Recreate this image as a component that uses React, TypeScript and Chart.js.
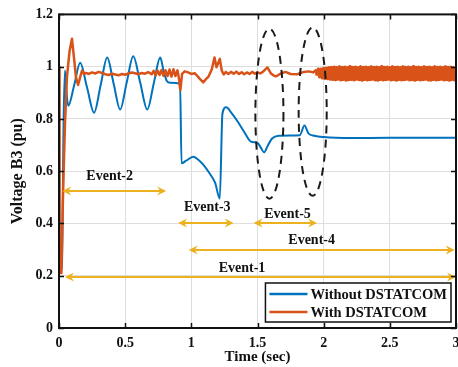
import { useEffect, useRef } from 'react';
import { Chart, registerables } from 'chart.js';

Chart.register(...registerables);

const FONT = "'Liberation Serif', 'Times New Roman', serif";
const TEXT = '#111111';

const seriesLabels = ['Without DSTATCOM', 'With DSTATCOM'];

const blueTimes = [
  0, 0.006, 0.022, 0.035, 0.045, 0.057, 0.07, 0.115, 0.16, 0.212, 0.265, 0.315, 0.364, 0.413,
  0.462, 0.511, 0.561, 0.614, 0.667, 0.716, 0.765, 0.79, 0.815, 0.84, 0.915, 0.926, 0.96, 1.015,
  1.05, 1.09, 1.14, 1.18, 1.215, 1.235, 1.265, 1.3, 1.35, 1.4, 1.45, 1.5, 1.525, 1.55, 1.575,
  1.61, 1.66, 1.75, 1.82, 1.855, 1.885, 1.93, 2.0, 2.2, 2.5, 3.0,
];
const blueValues = [
  0.98, 0.21, 0.24, 0.8, 0.985, 0.9, 0.85, 0.93, 1.015, 0.92, 0.824, 0.93, 1.035, 0.935,
  0.836, 0.938, 1.04, 0.938, 0.836, 0.936, 1.035, 0.985, 0.945, 0.938, 0.935, 0.63, 0.64, 0.655,
  0.645, 0.625, 0.59, 0.555, 0.495, 0.82, 0.845, 0.825, 0.79, 0.75, 0.713, 0.708, 0.69, 0.672, 0.695,
  0.725, 0.736, 0.737, 0.738, 0.775, 0.745, 0.736, 0.731, 0.727, 0.728, 0.728,
];

const orangeTimes = [
  0, 0.004, 0.018, 0.03, 0.045, 0.06, 0.08, 0.098, 0.112, 0.128, 0.144, 0.16, 0.174, 0.19, 0.205,
  0.225, 0.25, 0.275, 0.3, 0.325, 0.35, 0.375, 0.4, 0.425, 0.45, 0.475, 0.5, 0.525, 0.55, 0.575,
  0.6, 0.625, 0.65, 0.675, 0.7, 0.715, 0.73, 0.745, 0.76, 0.775, 0.79, 0.805, 0.82, 0.835, 0.85,
  0.865, 0.88, 0.895, 0.905, 0.917, 0.93, 0.95, 0.975, 1.0, 1.025, 1.05, 1.07, 1.09, 1.11, 1.13,
  1.155, 1.175, 1.19, 1.2, 1.215, 1.23, 1.245, 1.26, 1.28, 1.3, 1.32, 1.34, 1.36, 1.38, 1.4, 1.42,
  1.44, 1.46, 1.48, 1.5, 1.52, 1.54, 1.56, 1.575, 1.6, 1.625, 1.64, 1.67, 1.71, 1.75, 1.8, 1.85,
  1.89, 1.92, 1.94,
];
const orangeValues = [
  1.0, 0.21, 0.21, 0.5, 0.78, 0.96, 1.06, 1.107, 1.04, 0.96, 0.93, 0.96, 0.985, 0.972, 0.976,
  0.972, 0.978, 0.974, 0.98, 0.976, 0.971, 0.968, 0.973, 0.97, 0.967, 0.972, 0.969, 0.974, 0.978, 0.975,
  0.971, 0.976, 0.973, 0.979, 0.971, 0.984, 0.966, 0.985, 0.968, 0.987, 0.965, 0.986, 0.964, 0.989, 0.962,
  0.99, 0.964, 0.986, 0.96, 0.91, 0.972, 0.982, 0.978, 0.972, 0.975, 0.962, 0.95, 0.94, 0.952, 0.962,
  0.99, 1.035, 0.998, 1.01, 1.03, 0.985, 0.97, 0.98, 0.972, 0.98, 0.973, 0.981, 0.972, 0.979, 0.971, 0.978,
  0.972, 0.98, 0.973, 0.978, 0.974, 0.98, 0.99, 0.997, 0.975, 0.965, 0.963, 0.972, 0.98, 0.972, 0.971, 0.98,
  0.982, 0.978, 0.986,
];

const orangeBandTimes = [
  1.95, 1.96, 1.97, 1.98, 1.99, 2.0, 2.01, 2.02, 2.03, 2.04,
  2.05, 2.06, 2.07, 2.08, 2.09, 2.1, 2.11, 2.12, 2.13, 2.14,
  2.15, 2.16, 2.17, 2.18, 2.19, 2.2, 2.21, 2.22, 2.23, 2.24,
  2.25, 2.26, 2.27, 2.28, 2.29, 2.3, 2.31, 2.32, 2.33, 2.34,
  2.35, 2.36, 2.37, 2.38, 2.39, 2.4, 2.41, 2.42, 2.43, 2.44,
  2.45, 2.46, 2.47, 2.48, 2.49, 2.5, 2.51, 2.52, 2.53, 2.54,
  2.55, 2.56, 2.57, 2.58, 2.59, 2.6, 2.61, 2.62, 2.63, 2.64,
  2.65, 2.66, 2.67, 2.68, 2.69, 2.7, 2.71, 2.72, 2.73, 2.74,
  2.75, 2.76, 2.77, 2.78, 2.79, 2.8, 2.81, 2.82, 2.83, 2.84,
  2.85, 2.86, 2.87, 2.88, 2.89, 2.9, 2.91, 2.92, 2.93, 2.94,
  2.95, 2.96, 2.97, 2.98, 2.99, 3.0,
];
const orangeBandValues = [
  0.966, 0.99, 0.962, 0.99, 0.958, 0.993, 0.956, 0.994, 0.955, 0.996,
  0.953, 0.997, 0.952, 0.998, 0.951, 0.996, 0.953, 0.999, 0.95, 0.997,
  0.952, 0.998, 0.949, 0.996, 0.951, 1.0, 0.952, 0.997, 0.95, 0.998,
  0.953, 0.996, 0.951, 0.999, 0.949, 0.997, 0.952, 0.998, 0.95, 0.996,
  0.951, 0.999, 0.953, 0.997, 0.95, 0.998, 0.949, 0.996, 0.952, 1.0,
  0.95, 0.997, 0.951, 0.998, 0.953, 0.996, 0.95, 0.999, 0.951, 0.997,
  0.949, 0.998, 0.952, 0.996, 0.95, 0.999, 0.951, 0.997, 0.953, 0.998,
  0.95, 0.996, 0.951, 1.0, 0.949, 0.997, 0.952, 0.998, 0.95, 0.996,
  0.951, 0.999, 0.953, 0.997, 0.95, 0.998, 0.949, 0.996, 0.952, 0.999,
  0.95, 0.997, 0.951, 0.998, 0.953, 0.996, 0.95, 0.999, 0.951, 0.997,
  0.949, 0.998, 0.952, 0.996, 0.95, 0.999,
];

// Event arrows (double-headed), in data units
const eventNames = ['Event-2', 'Event-3', 'Event-5', 'Event-4', 'Event-1'];
const eventStart = [0.025, 0.9, 1.47, 0.98, 0.045];
const eventEnd = [0.81, 1.32, 1.95, 2.99, 3.0];
const eventLevel = [0.524, 0.402, 0.402, 0.298, 0.195];
const eventLabelT = [0.383, 1.12, 1.727, 1.909, 1.383];
const eventLabelV = [0.582, 0.463, 0.436, 0.337, 0.23];

// Dashed ellipses, in data units
const ellipseCenterT = [1.59, 1.917];
const ellipseCenterV = [0.82, 0.828];
const ellipseRadiusT = [0.106, 0.106];
const ellipseRadiusV = [0.325, 0.322];

const BLUE = '#0072BD';
const ORANGE = '#D95319';
const ARROW = '#EDB120';

const fmtTick = (v: any) => String(Number(Number(v).toFixed(2)));

function drawHead(ctx: CanvasRenderingContext2D, tipX: number, y: number, dir: number) {
  const len = 9;
  const half = 4.5;
  const notch = 3;
  ctx.beginPath();
  ctx.moveTo(tipX, y);
  ctx.lineTo(tipX - dir * len, y - half);
  ctx.lineTo(tipX - dir * (len - notch), y);
  ctx.lineTo(tipX - dir * len, y + half);
  ctx.closePath();
  ctx.fill();
}

const overlayPlugin = {
  id: 'overlay',
  afterDraw(chart: any) {
    const ctx: CanvasRenderingContext2D = chart.ctx;
    const xs = chart.scales.x;
    const ys = chart.scales.y;
    const area = chart.chartArea;
    ctx.save();

    // arrows
    ctx.strokeStyle = ARROW;
    ctx.fillStyle = ARROW;
    ctx.lineWidth = 2;
    for (let i = 0; i < eventNames.length; i++) {
      const x1 = xs.getPixelForValue(eventStart[i]);
      const x2 = xs.getPixelForValue(eventEnd[i]);
      const y = ys.getPixelForValue(eventLevel[i]);
      ctx.beginPath();
      ctx.moveTo(x1 + 4, y);
      ctx.lineTo(x2 - 4, y);
      ctx.stroke();
      drawHead(ctx, x1, y, -1);
      drawHead(ctx, x2, y, 1);
    }
    ctx.fillStyle = TEXT;
    ctx.font = `bold 14px ${FONT}`;
    ctx.textAlign = 'center';
    ctx.textBaseline = 'middle';
    for (let i = 0; i < eventNames.length; i++) {
      ctx.fillText(eventNames[i], xs.getPixelForValue(eventLabelT[i]), ys.getPixelForValue(eventLabelV[i]));
    }

    // dashed ellipses
    ctx.strokeStyle = '#1a1a1a';
    ctx.lineWidth = 2;
    ctx.setLineDash([8, 6]);
    for (let i = 0; i < ellipseCenterT.length; i++) {
      const cx = xs.getPixelForValue(ellipseCenterT[i]);
      const cy = ys.getPixelForValue(ellipseCenterV[i]);
      const rx = Math.abs(xs.getPixelForValue(ellipseCenterT[i] + ellipseRadiusT[i]) - cx);
      const ry = Math.abs(ys.getPixelForValue(ellipseCenterV[i] + ellipseRadiusV[i]) - cy);
      ctx.beginPath();
      ctx.ellipse(cx, cy, rx, ry, 0, 0, Math.PI * 2);
      ctx.stroke();
    }
    ctx.setLineDash([]);

    // inward ticks + box
    ctx.strokeStyle = '#111';
    ctx.lineWidth = 1.5;
    ctx.beginPath();
    for (const t of xs.ticks) {
      const px = Math.round(xs.getPixelForValue(t.value)) + 0.5;
      ctx.moveTo(px, area.bottom);
      ctx.lineTo(px, area.bottom - 5);
      ctx.moveTo(px, area.top);
      ctx.lineTo(px, area.top + 5);
    }
    for (const t of ys.ticks) {
      const py = Math.round(ys.getPixelForValue(t.value)) + 0.5;
      ctx.moveTo(area.left, py);
      ctx.lineTo(area.left + 5, py);
      ctx.moveTo(area.right, py);
      ctx.lineTo(area.right - 5, py);
    }
    ctx.stroke();
    ctx.lineWidth = 2;
    ctx.strokeRect(area.left, area.top, area.right - area.left, area.bottom - area.top);

    // legend
    ctx.font = `bold 14.5px ${FONT}`;
    const colors = [BLUE, ORANGE];
    let textW = 0;
    for (const l of seriesLabels) textW = Math.max(textW, ctx.measureText(l).width);
    const lineLen = 38;
    const boxW = 4 + lineLen + 3 + textW + 4;
    const boxH = 39;
    const bx = area.right - 5 - boxW;
    const by = area.bottom - 6 - boxH;
    ctx.fillStyle = '#ffffff';
    ctx.fillRect(bx, by, boxW, boxH);
    ctx.strokeStyle = '#111';
    ctx.lineWidth = 1.5;
    ctx.strokeRect(bx, by, boxW, boxH);
    ctx.textAlign = 'left';
    ctx.textBaseline = 'middle';
    for (let i = 0; i < seriesLabels.length; i++) {
      const ry = by + 11 + i * 18;
      ctx.strokeStyle = colors[i];
      ctx.lineWidth = 2.5;
      ctx.beginPath();
      ctx.moveTo(bx + 4, ry);
      ctx.lineTo(bx + 4 + lineLen, ry);
      ctx.stroke();
      ctx.fillStyle = TEXT;
      ctx.fillText(seriesLabels[i], bx + 4 + lineLen + 3, ry + 1);
    }
    ctx.restore();
  },
};

export default function App() {
  const ref = useRef<HTMLCanvasElement>(null);
  useEffect(() => {
    const canvas = ref.current;
    if (!canvas) return;
    const blueData = blueTimes.map((t, i) => ({ x: t, y: blueValues[i] }));
    const orangeData = orangeTimes
      .map((t, i) => ({ x: t, y: orangeValues[i] }))
      .concat(orangeBandTimes.map((t, i) => ({ x: t, y: orangeBandValues[i] })));
    const bandStart = orangeBandTimes[0];
    const chart = new Chart(canvas, {
      type: 'line',
      data: {
        datasets: [
          {
            label: seriesLabels[0],
            data: blueData,
            borderColor: BLUE,
            borderWidth: 2,
            pointRadius: 0,
            cubicInterpolationMode: 'monotone',
            fill: false,
            order: 1,
          },
          {
            label: seriesLabels[1],
            data: orangeData,
            borderColor: ORANGE,
            borderWidth: 2.5,
            borderJoinStyle: 'round',
            pointRadius: 0,
            tension: 0,
            fill: false,
            order: 0,
            segment: {
              borderWidth: (c: any) => (c.p0.parsed.x >= bandStart ? 3.6 : undefined),
            },
          } as any,
        ],
      },
      options: {
        animation: false,
        responsive: false,
        devicePixelRatio: 1,
        parsing: false as any,
        layout: { padding: { top: 14, right: 2, left: 0, bottom: 0 } },
        plugins: { legend: { display: false }, tooltip: { enabled: false } },
        scales: {
          x: {
            type: 'linear',
            min: 0,
            max: 3,
            ticks: {
              stepSize: 0.5,
              color: TEXT,
              font: { family: FONT, size: 14, weight: 'bold' },
              padding: 7,
              maxRotation: 0,
              callback: fmtTick,
            },
            grid: { color: '#dedede', lineWidth: 1, drawTicks: false },
            border: { display: false },
            title: {
              display: true,
              text: 'Time (sec)',
              color: TEXT,
              font: { family: FONT, size: 15, weight: 'bold' },
              padding: { top: 0, bottom: 1 },
            },
            afterFit: (s: any) => {
              s.height = 39;
              s.paddingRight = 0;
            },
          },
          y: {
            type: 'linear',
            min: 0,
            max: 1.2,
            ticks: {
              stepSize: 0.2,
              color: TEXT,
              font: { family: FONT, size: 14, weight: 'bold' },
              padding: 6,
              callback: fmtTick,
            },
            grid: { color: '#dedede', lineWidth: 1, drawTicks: false },
            border: { display: false },
            title: {
              display: true,
              text: 'Voltage B3 (pu)',
              color: TEXT,
              font: { family: FONT, size: 16, weight: 'bold' },
              padding: { top: 8, bottom: 0 },
            },
            afterFit: (s: any) => {
              s.width = 59;
            },
          },
        },
      },
      plugins: [overlayPlugin],
    });
    return () => chart.destroy();
  }, []);
  return (
    <div style={{ position: 'absolute', left: 0, top: 0, width: 458, height: 367 }}>
      <canvas ref={ref} width={458} height={367} style={{ display: 'block' }} />
    </div>
  );
}
